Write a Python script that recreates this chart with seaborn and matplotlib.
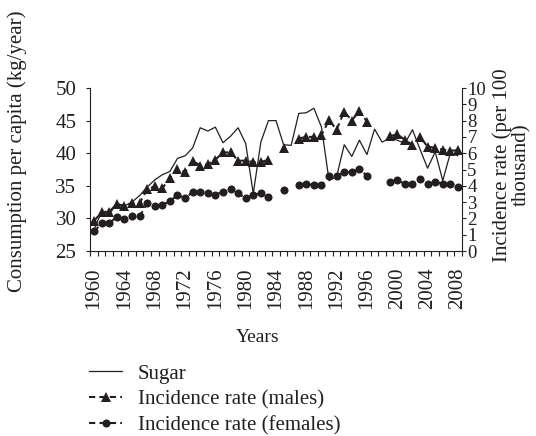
import numpy as np
import pandas as pd
import matplotlib
matplotlib.use("Agg")
import matplotlib.pyplot as plt
import seaborn as sns
from matplotlib.lines import Line2D

nan = np.nan

# data
years = list(range(1960, 2009))
sugar = [28.3, 31.05, 30.6, 32.3, 31.9, 32.5, 33.5, 34.8, 35.9, 36.7,
         37.2, 39.2, 39.6, 40.8, 43.9, 43.4, 44.0, 41.6, 42.6, 43.9,
         41.5, 33.8, 41.7, 45.0, 45.0, 41.3, 41.2, 46.1, 46.2, 46.9,
         44.0, 35.8, 36.4, 41.3, 39.5, 42.0, 39.8, 43.7, 41.7, 42.3,
         42.0, 41.5, 43.6, 40.6, 37.7, 40.2, 35.8, 40.0, 39.6]
males = [1.85, 2.38, 2.42, 2.87, 2.77, 2.93, 2.93, 3.78, 3.96, 3.84,
         4.5, 5.03, 4.83, 5.55, 5.24, 5.33, 5.6, 6.05, 6.05, 5.54,
         5.54, 5.46, 5.46, 5.6, nan, 6.32, nan, 6.9, 7.0, 7.0,
         7.12, 8.02, 7.45, 8.55, 8.0, 8.6, 7.93, nan, nan, 7.05,
         7.15, 6.83, 6.5, 7.0, 6.4, 6.33, 6.22, 6.15, 6.18]
females = [1.2, 1.7, 1.7, 2.1, 1.95, 2.12, 2.12, 2.92, 2.76, 2.83,
           3.04, 3.45, 3.24, 3.62, 3.62, 3.55, 3.45, 3.64, 3.8, 3.54,
           3.23, 3.44, 3.54, 3.33, nan, 3.72, nan, 4.03, 4.12, 4.02,
           4.02, 4.62, 4.62, 4.83, 4.83, 5.03, 4.62, nan, nan, 4.23,
           4.33, 4.13, 4.13, 4.43, 4.13, 4.23, 4.13, 4.13, 3.93]
tick_years = years[::4]

df = pd.DataFrame({"pos": range(len(years)), "year": years,
                   "sugar": sugar, "males": males, "females": females})

sns.set_theme(style="ticks")
plt.rcParams["font.family"] = ["Liberation Serif", "DejaVu Serif"]
fs = 15
plt.rcParams["font.size"] = fs
ink = "#231f20"

W, H = 536, 436
fig = plt.figure(figsize=(W / 100, H / 100), dpi=100)
ax = fig.add_axes([90.3 / W, 1 - 251 / H, (461.7 - 90.3) / W, (251 - 88) / H])
ax2 = ax.twinx()

# sugar on the left axis
sns.lineplot(data=df, x="pos", y="sugar", ax=ax, color=ink, lw=0.9, legend=False)

# incidence rates on the right axis, broken where years are missing
dash = (0, (3, 2))
for col, mk, ms in [("males", "^", 6.5), ("females", "o", 5.8)]:
    sub = df.assign(seg=df[col].isna().cumsum()).dropna(subset=[col])
    sns.lineplot(data=sub, x="pos", y=col, units="seg", estimator=None, ax=ax2,
                 color=ink, lw=1.5, linestyle=dash, marker=mk, markersize=ms,
                 markeredgewidth=0, markeredgecolor=ink, markerfacecolor=ink,
                 legend=False)

ax.set_xlim(-0.5, len(years) - 0.5)
ax.set_ylim(25, 50)
ax2.set_ylim(0, 10)
ax.set_yticks(range(25, 51, 5))
ax2.set_yticks(range(0, 11))

ax.set_xticks(range(0, len(years), 4))
ax.set_xticklabels(tick_years, rotation=90)
ax.set_xticks(np.arange(-0.5, len(years), 1), minor=True)
ax.tick_params(axis="x", which="major", length=0, pad=12, labelsize=fs, colors=ink)
ax.tick_params(axis="x", which="minor", length=3.5, width=0.8, direction="out",
               bottom=True, color=ink)
ax.tick_params(axis="y", which="both", length=3, width=0.8, direction="out",
               left=True, pad=7, labelsize=fs, colors=ink)
ax2.tick_params(axis="y", length=3, width=0.8, direction="out", right=True,
                pad=1, labelsize=13.5, colors=ink)

ax.set_xlabel("")
ax.set_ylabel("")
ax2.set_ylabel("")
for a in (ax, ax2):
    a.spines["top"].set_visible(False)
    for s in a.spines.values():
        s.set_linewidth(0.8)
        s.set_color(ink)
ax.spines["right"].set_visible(False)
ax2.spines["left"].set_visible(False)
ax2.spines["bottom"].set_visible(False)

fig.text(17 / W, 1 - 151 / H, "Consumption per capita (kg/year)", rotation=90,
         ha="center", va="center", color=ink, fontsize=fs)
fig.text(512 / W, 1 - 165 / H, "Incidence rate (per 100\nthousand)", rotation=90,
         ha="center", va="center", multialignment="center", color=ink,
         fontsize=fs, linespacing=1.0)
fig.text(258 / W, 1 - 337 / H, "Years", ha="center", va="center", color=ink,
         fontsize=14)

handles = [
    Line2D([], [], color=ink, lw=0.9),
    Line2D([], [], color=ink, lw=1.5, ls=dash, marker="^", ms=6.5, mew=0),
    Line2D([], [], color=ink, lw=1.5, ls=dash, marker="o", ms=5.8, mew=0),
]
labels = ["Sugar", "Incidence rate (males)", "Incidence rate (females)"]
fig.legend(handles, labels, loc="upper left", bbox_to_anchor=(89 / W, 1 - 364 / H),
           frameon=False, handlelength=1.6, handletextpad=0.75, labelspacing=0.3,
           borderpad=0, borderaxespad=0, fontsize=fs, labelcolor=ink)

fig.savefig("out.png", dpi=100, facecolor="white")
